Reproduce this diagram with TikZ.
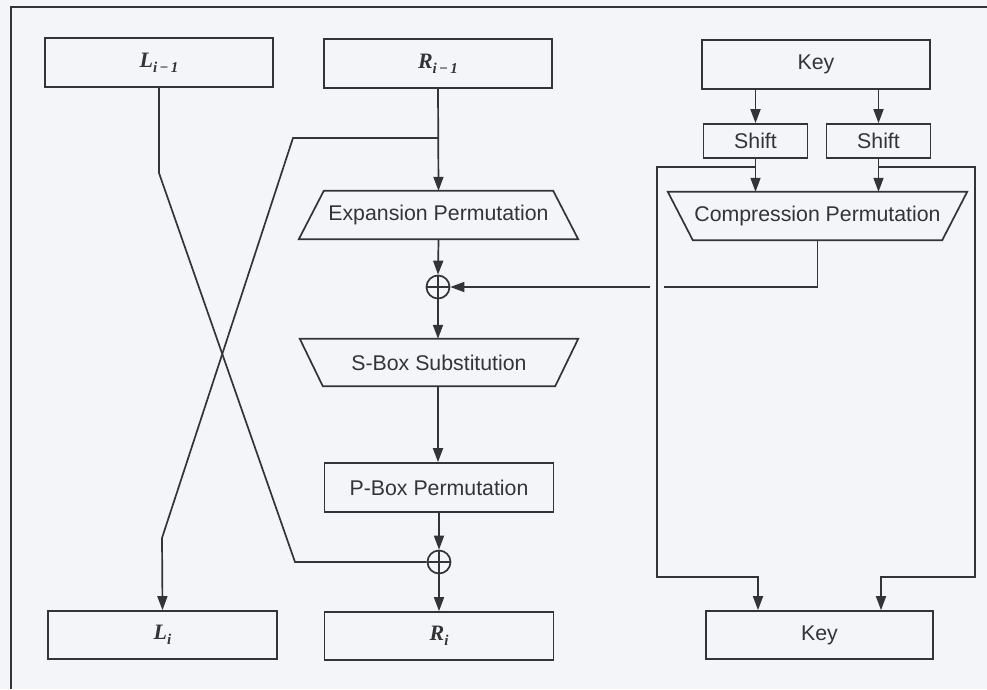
\documentclass[tikz,border=0pt]{standalone}
\usepackage{fontspec}
\setmainfont{Liberation Sans}
\newfontfamily\timesfont{Liberation Serif}
\usetikzlibrary{arrows.meta,calc}
\definecolor{paper}{RGB}{244,245,248}
\definecolor{ink}{RGB}{52,52,55}
% half-block name with an index, e.g. L with subscript i-1
\newcommand{\halfname}[2]{{\timesfont\bfseries\itshape #1}\raisebox{-5pt}{\fontsize{15}{17}\selectfont\timesfont\bfseries\itshape #2}}

\begin{document}
\begin{tikzpicture}[x=1pt,y=-1pt,
  wire/.style={draw=ink, line width=1.7pt},
  flow/.style={wire, -{Triangle[length=14pt,width=10pt]}},
  label/.style={text=ink, font=\fontsize{21.3}{24}\selectfont},
  mathlabel/.style={text=ink, font=\fontsize{22}{24}\selectfont},
  box/.style={draw=ink, line width=1.7pt, inner sep=0pt, minimum width=228pt, minimum height=49pt},
  smallbox/.style={box, minimum width=104pt, minimum height=34pt},
  trapbody/.style={inner sep=0pt, minimum height=48pt},
  xor/.style={circle, draw=ink, line width=1.7pt, minimum size=23pt, inner sep=0pt,
    path picture={\draw[ink, line width=1.5pt]
      (path picture bounding box.north) -- (path picture bounding box.south)
      (path picture bounding box.west) -- (path picture bounding box.east);}}
]
% page
\fill[paper] (0,0) rectangle (987,689);
\useasboundingbox (0,0) rectangle (987,689);
% frame (top and left edges)
\draw[wire] (987,7) -- (11,7) -- (11,689);

% ---------- data path ----------
\node[box, mathlabel] (Lprev) at (159,62.5) {\halfname{L}{i\,{\upshape −}\,1}};
\node[box, mathlabel] (Rprev) at (438,63.5) {\halfname{R}{i\,{\upshape −}\,1}};

\node[trapbody, label, minimum width=279pt] (exp) at (438.5,215) {Expansion Permutation};
\draw[wire] (exp.south west) -- (exp.south east) -- ([xshift=-25pt]exp.north east)
  -- ([xshift=25pt]exp.north west) -- cycle;

\node[xor] (xor1) at (438,287) {};

\node[trapbody, label, minimum width=278pt, minimum height=47pt] (sbox) at (439,362.5) {S-Box Substitution};
\draw[wire] (sbox.north west) -- (sbox.north east) -- ([xshift=-23pt]sbox.south east)
  -- ([xshift=23pt]sbox.south west) -- cycle;

\node[box, label, minimum width=229pt] (pbox) at (439,487.5) {P-Box Permutation};
\node[xor] (xor2) at (439,562) {};

\node[box, mathlabel, minimum width=229pt, minimum height=48pt] (Li) at (162.5,635) {\halfname{L}{i}};
\node[box, mathlabel, minimum width=229pt, minimum height=48pt] (Ri) at (439,636) {\halfname{R}{i}};

% ---------- key schedule ----------
\node[box, label] (keytop) at (816,64.5) {Key};
\node[smallbox, label] (shiftA) at (755.5,141) {Shift};
\node[smallbox, label] (shiftB) at (878.5,141) {Shift};

\node[trapbody, label, minimum width=299pt] (comp) at (817.5,216) {Compression Permutation};
\draw[wire] (comp.north west) -- (comp.north east) -- ([xshift=-25pt]comp.south east)
  -- ([xshift=25pt]comp.south west) -- cycle;

\node[box, label, minimum width=227pt, minimum height=48pt] (keybot) at (819.5,635) {Key};

% ---------- connectors: data path ----------
\coordinate (split) at (438,138);
\draw[flow] (Rprev.south) -- (exp.north);
\draw[flow] (exp.south) -- (xor1.north);
\draw[flow] (xor1.south) -- (sbox.north -| xor1.south);
\draw[flow] (sbox.south -| xor1.south) -- (pbox.north -| xor1.south);
\draw[flow] (pbox.south -| xor2.north) -- (xor2.north);
\draw[flow] (xor2.south) -- (Ri.north -| xor2.south);

% crossing of the halves
\coordinate (lbend) at (159,173);
\coordinate (lfoot) at (295,562);
\coordinate (rturn) at (293,138);
\coordinate (rbend) at (162,538);
\draw[wire] (Lprev.south) -- (lbend) -- (lfoot) -- (xor2.west);
\draw[flow] (split) -- (rturn) -- (rbend) -- (Li.north);

% ---------- connectors: key schedule ----------
\draw[flow] (shiftA.north |- keytop.south) -- (shiftA.north);
\draw[flow] (shiftB.north |- keytop.south) -- (shiftB.north);
\draw[flow] (shiftA.south) -- (shiftA.south |- comp.north);
\draw[flow] (shiftB.south) -- (shiftB.south |- comp.north);

% subkey into the round function (broken where it crosses the bypass)
\coordinate (gapR) at (664,287);
\coordinate (gapL) at (650,287);
\draw[flow] (comp.south) |- (gapR) (gapL) -- (xor1.east);

% shifted key halves passed on to the next round
\coordinate (tapA) at (755.5,167);
\coordinate (tapB) at (878.5,167);
\coordinate (byA1) at (657,167);
\coordinate (byA2) at (657,577);
\coordinate (byA3) at (758,577);
\coordinate (byB1) at (975,167);
\coordinate (byB2) at (975,577);
\coordinate (byB3) at (881,577);
\draw[flow] (tapA) -- (byA1) -- (byA2) -- (byA3) -- (byA3 |- keybot.north);
\draw[flow] (tapB) -- (byB1) -- (byB2) -- (byB3) -- (byB3 |- keybot.north);
\end{tikzpicture}
\end{document}
